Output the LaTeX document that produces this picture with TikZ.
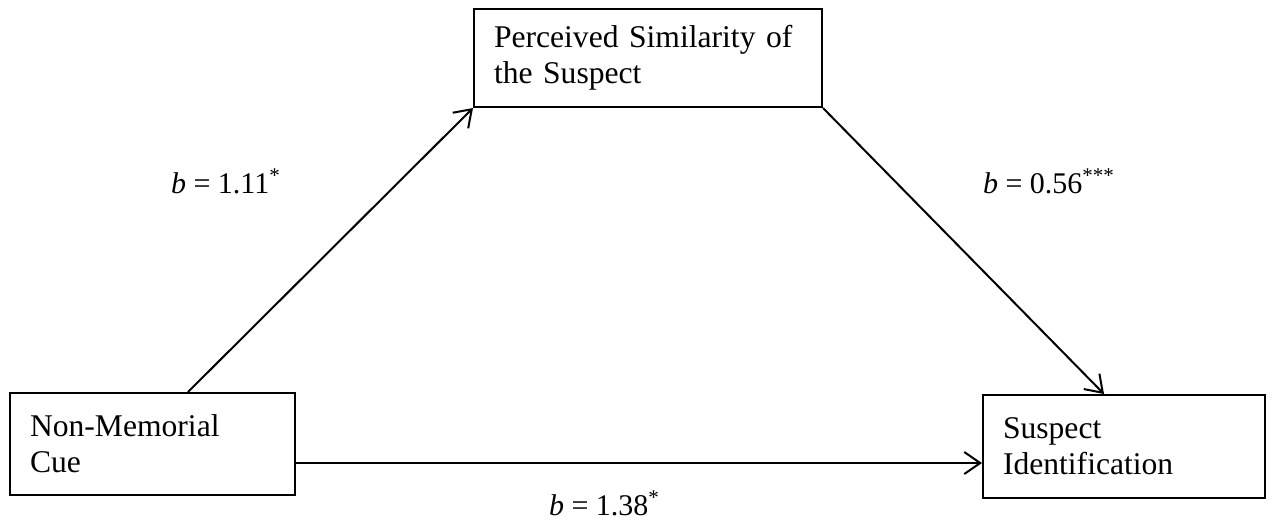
\documentclass[tikz,border=0pt]{standalone}
\usepackage{fontspec}
\setmainfont{Liberation Serif}
\usetikzlibrary{arrows.meta}

\begin{document}
\begin{tikzpicture}[x=0.5pt, y=-0.5pt, line width=1pt, >={Straight Barb[length=8pt,width=11pt]},
  every node/.style={font=\fontsize{15pt}{17.5pt}\selectfont},
  box/.style={draw, rectangle, anchor=north west, align=left, inner xsep=10pt, inner ysep=0pt,
    font=\fontsize{15.8pt}{18pt}\selectfont},
  lbl/.style={anchor=base west, inner sep=0pt}]
\useasboundingbox (0,0) rectangle (1272,521);
\node (sim) [box, text width=154pt, minimum height=49pt] at (473,8) {\mbox{Perceived Similarity of}\\\mbox{the Suspect}};
\node (cue) [box, text width=122.5pt, minimum height=51pt] at (9,392) {\mbox{Non-Memorial}\\\mbox{Cue}};
\node (sid) [box, text width=121pt, minimum height=51.5pt] at (982,394) {\mbox{Suspect}\\\mbox{Identification}};
\node (ba) [lbl] at (170,193) {\textit{b} = 1.11\textsuperscript{*}};
\node (bb) [lbl] at (982,193) {\textit{b} = 0.56\textsuperscript{***}};
\node (bc) [lbl] at (548,515) {\textit{b} = 1.38\textsuperscript{*}};

\draw[->] ([xshift=17.75pt]cue.north)--(sim.south west);
\draw[->] (sim.south east)--([xshift=-10pt]sid.north);
\draw[->] ([yshift=-9.5pt]cue.east)--([yshift=-9.5pt]cue.east -| sid.west);
\end{tikzpicture}
\end{document}
